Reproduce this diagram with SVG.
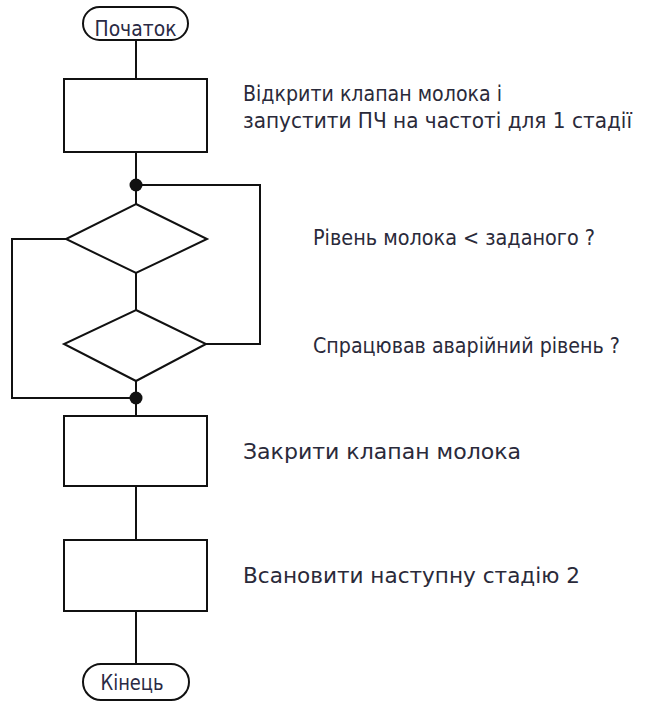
<svg xmlns="http://www.w3.org/2000/svg" width="645" height="704" viewBox="0 0 645 704">
  <style>
    .shape { fill: #ffffff; stroke: #111111; stroke-width: 2; }
    .wire { fill: none; stroke: #111111; stroke-width: 2; }
    .dot { fill: #111111; }
    .lbl { font-family: "DejaVu Sans Condensed", "Liberation Sans", sans-serif; font-size: 21px; fill: #2a2a3a; }
    .term { font-family: "DejaVu Sans Condensed", "Liberation Sans", sans-serif; font-size: 22px; fill: #2a2a44; text-anchor: middle; }
  </style>
  <rect width="645" height="704" fill="#ffffff"/>

  <!-- connectors -->
  <g id="connectors">
    <line class="wire" x1="136" y1="40" x2="136" y2="79"/>
    <line class="wire" x1="136" y1="152" x2="136" y2="204"/>
    <polyline class="wire" points="136,185 260,185 260,344 206,344"/>
    <line class="wire" x1="136" y1="273" x2="136" y2="310"/>
    <polyline class="wire" points="66,239 12,239 12,398 136,398"/>
    <line class="wire" x1="136" y1="381" x2="136" y2="416"/>
    <line class="wire" x1="136" y1="486" x2="136" y2="540"/>
    <line class="wire" x1="136" y1="611" x2="136" y2="664"/>
    <circle class="dot" cx="136" cy="185" r="6.5"/>
    <circle class="dot" cx="136" cy="398" r="6.5"/>
  </g>

  <g id="start">
    <rect class="shape" x="83" y="7" width="105" height="33" rx="16.5"/>
    <text class="term" x="135.5" y="36" textLength="82" lengthAdjust="spacingAndGlyphs">Початок</text>
  </g>

  <g id="open-valve">
    <rect class="shape" x="64" y="79" width="143" height="73"/>
    <text class="lbl" x="243" y="101" textLength="259" lengthAdjust="spacingAndGlyphs">Відкрити клапан молока і</text>
    <text class="lbl" x="243" y="128" textLength="389" lengthAdjust="spacingAndGlyphs">запустити ПЧ на частоті для 1 стадії</text>
  </g>

  <g id="level-check">
    <polygon class="shape" points="136,204 207,239 136,273 66,239"/>
    <text class="lbl" x="313" y="245" textLength="282" lengthAdjust="spacingAndGlyphs">Рівень молока &lt; заданого ?</text>
  </g>

  <g id="alarm-check">
    <polygon class="shape" points="136,310 206,344 136,381 64,344"/>
    <text class="lbl" x="313" y="353" textLength="307" lengthAdjust="spacingAndGlyphs">Спрацював аварійний  рівень ?</text>
  </g>

  <g id="close-valve">
    <rect class="shape" x="64" y="416" width="143" height="70"/>
    <text class="lbl" x="243" y="459" textLength="278" lengthAdjust="spacingAndGlyphs">Закрити клапан молока</text>
  </g>

  <g id="next-stage">
    <rect class="shape" x="64" y="540" width="143" height="71"/>
    <text class="lbl" x="243" y="583" textLength="337" lengthAdjust="spacingAndGlyphs">Всановити наступну стадію 2</text>
  </g>

  <g id="end">
    <rect class="shape" x="83" y="664" width="106" height="36" rx="18"/>
    <text class="term" x="132" y="690" textLength="63" lengthAdjust="spacingAndGlyphs">Кінець</text>
  </g>
</svg>
